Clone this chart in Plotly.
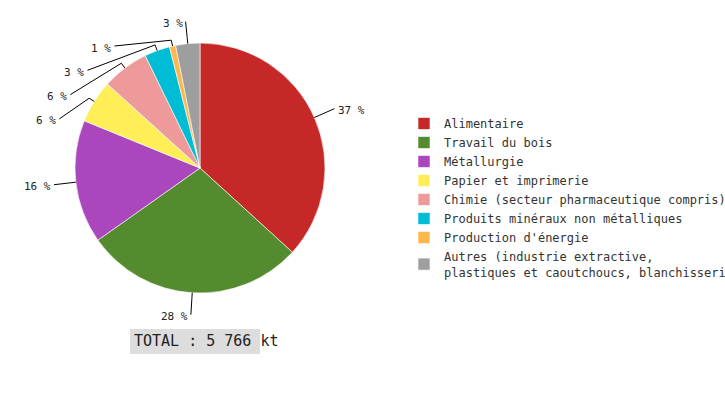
import math
import plotly.graph_objects as go

# ---------------- data ----------------
sectors = [
    "Alimentaire",
    "Travail du bois",
    "Métallurgie",
    "Papier et imprimerie",
    "Chimie (secteur pharmaceutique compris)",
    "Produits minéraux non métalliques",
    "Production d'énergie",
    "Autres (industrie extractive,<br>plastiques et caoutchoucs, blanchisseries)",
]
emissions_kt = [2120, 1640, 920, 320, 350, 190, 46, 180]
colors = ["#c62828", "#558b2f", "#ab47bc", "#ffee58",
          "#ef9a9a", "#00bcd4", "#ffb74d", "#9e9e9e"]

# ---------------- layout constants ----------------
W, H = 725, 400
CX, CY, R = 200, 168, 125          # pie centre / radius in px
FONT = "DejaVu Sans Mono"


def px(x):
    return x / W


def py(y):
    return 1 - y / H


total = sum(emissions_kt)
shares = [v / total for v in emissions_kt]

# ---------------- outside labels with leader lines ----------------
R_ELBOW = 131
R_NAT = 147
R_FIT = 149
GAP = 24.3

items = []
cum = 0.0
for i, s in enumerate(shares):
    th = (cum + s / 2) * 2 * math.pi
    cum += s
    sx, sy = math.sin(th), -math.cos(th)
    items.append({
        "i": i,
        "sx": sx, "sy": sy,
        "edge": (CX + R * sx, CY + R * sy),
        "elbow": (CX + R_ELBOW * sx, CY + R_ELBOW * sy),
        "end": [CX + R_NAT * sx, CY + R_NAT * sy],
        "side": "right" if sx > 0 else "left",
    })

for side in ("left", "right"):
    grp = sorted([it for it in items if it["side"] == side], key=lambda d: d["end"][1])
    prev = None
    for it in grp:
        y = it["end"][1]
        if prev is not None and y < prev + GAP:
            y = prev + GAP
            dy = y - CY
            dx = math.sqrt(max(R_FIT ** 2 - dy ** 2, 0))
            it["end"] = [CX - dx if side == "left" else CX + dx, y]
        prev = y

shapes = []
annotations = []
for it in items:
    (x0, y0), (x1, y1), (x2, y2) = it["edge"], it["elbow"], it["end"]
    shapes.append(dict(
        type="path", xref="paper", yref="paper",
        path=f"M {px(x0)},{py(y0)} L {px(x1)},{py(y1)} L {px(x2)},{py(y2)}",
        line=dict(color="#000000", width=1),
    ))
    left = it["side"] == "left"
    annotations.append(dict(
        x=px(x2 - 1 if left else x2 + 2), y=py(y2 + 2),
        xref="paper", yref="paper",
        xanchor="right" if left else "left", yanchor="middle",
        text=f"{round(shares[it['i']] * 100)} %",
        showarrow=False,
        font=dict(family=FONT, size=11, color="#222222"),
    ))

# ---------------- total box ----------------
shapes.append(dict(
    type="rect", xref="paper", yref="paper",
    x0=px(130), x1=px(260), y0=py(354), y1=py(329),
    fillcolor="#dddddd", line=dict(width=0), layer="below",
))
annotations.append(dict(
    x=px(132), y=py(341), xref="paper", yref="paper",
    xanchor="left", yanchor="middle", showarrow=False,
    text="TOTAL : " + f"{total:,}".replace(",", " ") + " kt",
    font=dict(family=FONT, size=15, color="#222222"),
))

fig = go.Figure(go.Pie(
    labels=sectors,
    values=emissions_kt,
    marker=dict(colors=colors, line=dict(color="#ffffff", width=0.6)),
    sort=False,
    direction="clockwise",
    rotation=0,
    textinfo="none",
    hoverinfo="label+percent",
    domain=dict(x=[px(CX - R), px(CX + R)], y=[py(CY + R), py(CY - R)]),
))

fig.update_layout(
    width=W, height=H,
    margin=dict(l=0, r=0, t=0, b=0, autoexpand=False),
    paper_bgcolor="#ffffff",
    plot_bgcolor="#ffffff",
    showlegend=True,
    legend=dict(
        x=px(404), y=py(109), xanchor="left", yanchor="top",
        font=dict(family=FONT, size=12, color="#333333"),
        bgcolor="rgba(0,0,0,0)",
        traceorder="normal",
    ),
    shapes=shapes,
    annotations=annotations,
)

fig.write_html(
    "out.html",
    config={"displayModeBar": False},
    post_script="document.body.style.margin='0';document.body.style.overflow='hidden';",
)
